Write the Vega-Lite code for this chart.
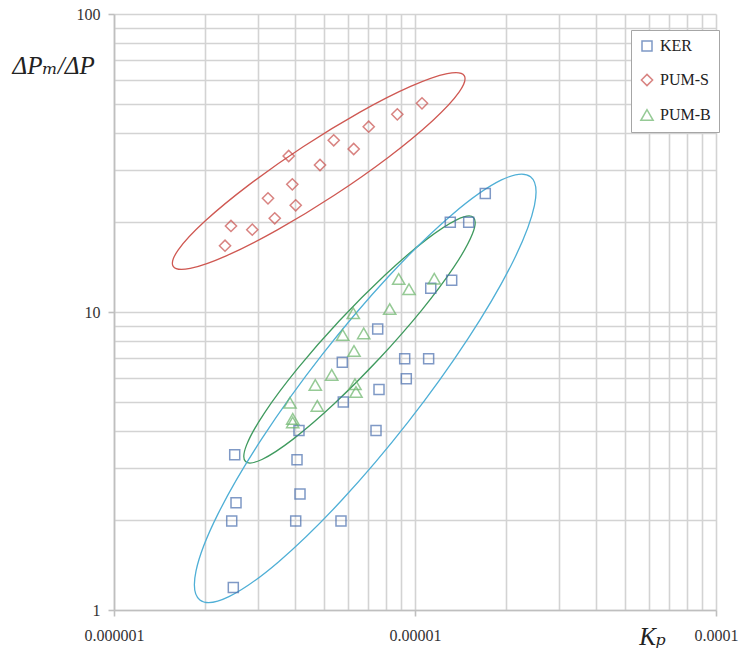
{
  "$schema": "https://vega.github.io/schema/vega-lite/v6.json",
  "width": 602,
  "height": 596,
  "autosize": {"type": "none"},
  "padding": {"left": 114, "top": 14, "right": 25, "bottom": 44},
  "background": "white",
  "config": {
    "view": {"stroke": null},
    "font": "Liberation Serif, DejaVu Serif, serif",
    "axis": {"labelFont": "Liberation Serif, DejaVu Serif, serif", "titleFont": "Liberation Serif, DejaVu Serif, serif"},
    "legend": {"labelFont": "Liberation Serif, DejaVu Serif, serif"}
  },
  "datasets": {
    "pts": [
      {"series": "KER", "Kp": 1.712e-5, "ratio": 25.0},
      {"series": "KER", "Kp": 1.310e-5, "ratio": 20.0},
      {"series": "KER", "Kp": 1.508e-5, "ratio": 20.0},
      {"series": "KER", "Kp": 1.324e-5, "ratio": 12.78},
      {"series": "KER", "Kp": 1.128e-5, "ratio": 12.01},
      {"series": "KER", "Kp": 7.518e-6, "ratio": 8.77},
      {"series": "KER", "Kp": 5.734e-6, "ratio": 6.78},
      {"series": "KER", "Kp": 9.242e-6, "ratio": 6.97},
      {"series": "KER", "Kp": 1.110e-5, "ratio": 6.97},
      {"series": "KER", "Kp": 9.356e-6, "ratio": 5.97},
      {"series": "KER", "Kp": 7.593e-6, "ratio": 5.49},
      {"series": "KER", "Kp": 5.778e-6, "ratio": 4.99},
      {"series": "KER", "Kp": 4.117e-6, "ratio": 4.0},
      {"series": "KER", "Kp": 7.421e-6, "ratio": 4.0},
      {"series": "KER", "Kp": 2.518e-6, "ratio": 3.32},
      {"series": "KER", "Kp": 4.055e-6, "ratio": 3.19},
      {"series": "KER", "Kp": 4.149e-6, "ratio": 2.45},
      {"series": "KER", "Kp": 2.543e-6, "ratio": 2.29},
      {"series": "KER", "Kp": 2.461e-6, "ratio": 1.99},
      {"series": "KER", "Kp": 4.015e-6, "ratio": 1.99},
      {"series": "KER", "Kp": 5.677e-6, "ratio": 1.99},
      {"series": "KER", "Kp": 2.491e-6, "ratio": 1.19},
      {"series": "PUM-S", "Kp": 2.338e-6, "ratio": 16.69},
      {"series": "PUM-S", "Kp": 2.447e-6, "ratio": 19.44},
      {"series": "PUM-S", "Kp": 2.880e-6, "ratio": 18.89},
      {"series": "PUM-S", "Kp": 3.420e-6, "ratio": 20.63},
      {"series": "PUM-S", "Kp": 3.248e-6, "ratio": 24.07},
      {"series": "PUM-S", "Kp": 4.015e-6, "ratio": 22.81},
      {"series": "PUM-S", "Kp": 3.912e-6, "ratio": 26.82},
      {"series": "PUM-S", "Kp": 3.805e-6, "ratio": 33.38},
      {"series": "PUM-S", "Kp": 4.835e-6, "ratio": 31.14},
      {"series": "PUM-S", "Kp": 5.370e-6, "ratio": 37.69},
      {"series": "PUM-S", "Kp": 6.256e-6, "ratio": 35.24},
      {"series": "PUM-S", "Kp": 7.018e-6, "ratio": 41.86},
      {"series": "PUM-S", "Kp": 8.735e-6, "ratio": 46.06},
      {"series": "PUM-S", "Kp": 1.055e-5, "ratio": 50.15},
      {"series": "PUM-B", "Kp": 8.828e-6, "ratio": 12.90},
      {"series": "PUM-B", "Kp": 1.159e-5, "ratio": 12.93},
      {"series": "PUM-B", "Kp": 9.552e-6, "ratio": 11.92},
      {"series": "PUM-B", "Kp": 8.240e-6, "ratio": 10.23},
      {"series": "PUM-B", "Kp": 6.238e-6, "ratio": 9.90},
      {"series": "PUM-B", "Kp": 5.752e-6, "ratio": 8.37},
      {"series": "PUM-B", "Kp": 6.754e-6, "ratio": 8.48},
      {"series": "PUM-B", "Kp": 6.271e-6, "ratio": 7.40},
      {"series": "PUM-B", "Kp": 5.288e-6, "ratio": 6.15},
      {"series": "PUM-B", "Kp": 4.664e-6, "ratio": 5.69},
      {"series": "PUM-B", "Kp": 6.319e-6, "ratio": 5.72},
      {"series": "PUM-B", "Kp": 6.368e-6, "ratio": 5.39},
      {"series": "PUM-B", "Kp": 3.843e-6, "ratio": 4.96},
      {"series": "PUM-B", "Kp": 4.736e-6, "ratio": 4.84},
      {"series": "PUM-B", "Kp": 3.924e-6, "ratio": 4.38},
      {"series": "PUM-B", "Kp": 3.924e-6, "ratio": 4.26}
    ],
    "ell": [
      {"series": "PUM-S", "idx": 0, "Kp": 1.457e-5, "ratio": 62.13},
      {"series": "PUM-S", "idx": 1, "Kp": 1.401e-5, "ratio": 54.68},
      {"series": "PUM-S", "idx": 2, "Kp": 1.144e-5, "ratio": 43.86},
      {"series": "PUM-S", "idx": 3, "Kp": 8.183e-6, "ratio": 33.15},
      {"series": "PUM-S", "idx": 4, "Kp": 5.393e-6, "ratio": 24.65},
      {"series": "PUM-S", "idx": 5, "Kp": 3.490e-6, "ratio": 18.86},
      {"series": "PUM-S", "idx": 6, "Kp": 2.370e-6, "ratio": 15.46},
      {"series": "PUM-S", "idx": 7, "Kp": 1.791e-6, "ratio": 14.00},
      {"series": "PUM-S", "idx": 8, "Kp": 1.573e-6, "ratio": 14.22},
      {"series": "PUM-S", "idx": 9, "Kp": 1.635e-6, "ratio": 16.16},
      {"series": "PUM-S", "idx": 10, "Kp": 2.003e-6, "ratio": 20.15},
      {"series": "PUM-S", "idx": 11, "Kp": 2.801e-6, "ratio": 26.65},
      {"series": "PUM-S", "idx": 12, "Kp": 4.250e-6, "ratio": 35.85},
      {"series": "PUM-S", "idx": 13, "Kp": 6.566e-6, "ratio": 46.86},
      {"series": "PUM-S", "idx": 14, "Kp": 9.668e-6, "ratio": 57.15},
      {"series": "PUM-S", "idx": 15, "Kp": 1.279e-5, "ratio": 63.10},
      {"series": "PUM-B", "idx": 0, "Kp": 1.564e-5, "ratio": 20.77},
      {"series": "PUM-B", "idx": 1, "Kp": 1.552e-5, "ratio": 18.29},
      {"series": "PUM-B", "idx": 2, "Kp": 1.351e-5, "ratio": 14.22},
      {"series": "PUM-B", "idx": 3, "Kp": 1.053e-5, "ratio": 10.15},
      {"series": "PUM-B", "idx": 4, "Kp": 7.628e-6, "ratio": 6.995},
      {"series": "PUM-B", "idx": 5, "Kp": 5.401e-6, "ratio": 4.929},
      {"series": "PUM-B", "idx": 6, "Kp": 3.937e-6, "ratio": 3.745},
      {"series": "PUM-B", "idx": 7, "Kp": 3.101e-6, "ratio": 3.200},
      {"series": "PUM-B", "idx": 8, "Kp": 2.736e-6, "ratio": 3.148},
      {"series": "PUM-B", "idx": 9, "Kp": 2.756e-6, "ratio": 3.575},
      {"series": "PUM-B", "idx": 10, "Kp": 3.167e-6, "ratio": 4.598},
      {"series": "PUM-B", "idx": 11, "Kp": 4.064e-6, "ratio": 6.443},
      {"series": "PUM-B", "idx": 12, "Kp": 5.608e-6, "ratio": 9.347},
      {"series": "PUM-B", "idx": 13, "Kp": 7.921e-6, "ratio": 13.26},
      {"series": "PUM-B", "idx": 14, "Kp": 1.087e-5, "ratio": 17.46},
      {"series": "PUM-B", "idx": 15, "Kp": 1.380e-5, "ratio": 20.43},
      {"series": "KER", "idx": 0, "Kp": 2.420e-5, "ratio": 28.44},
      {"series": "KER", "idx": 1, "Kp": 2.493e-5, "ratio": 22.74},
      {"series": "KER", "idx": 2, "Kp": 2.109e-5, "ratio": 14.66},
      {"series": "KER", "idx": 3, "Kp": 1.502e-5, "ratio": 8.155},
      {"series": "KER", "idx": 4, "Kp": 9.495e-6, "ratio": 4.277},
      {"series": "KER", "idx": 5, "Kp": 5.707e-6, "ratio": 2.334},
      {"series": "KER", "idx": 6, "Kp": 3.526e-6, "ratio": 1.453},
      {"series": "KER", "idx": 7, "Kp": 2.409e-6, "ratio": 1.109},
      {"series": "KER", "idx": 8, "Kp": 1.929e-6, "ratio": 1.081},
      {"series": "KER", "idx": 9, "Kp": 1.873e-6, "ratio": 1.353},
      {"series": "KER", "idx": 10, "Kp": 2.214e-6, "ratio": 2.097},
      {"series": "KER", "idx": 11, "Kp": 3.107e-6, "ratio": 3.771},
      {"series": "KER", "idx": 12, "Kp": 4.916e-6, "ratio": 7.191},
      {"series": "KER", "idx": 13, "Kp": 8.179e-6, "ratio": 13.18},
      {"series": "KER", "idx": 14, "Kp": 1.324e-5, "ratio": 21.17},
      {"series": "KER", "idx": 15, "Kp": 1.938e-5, "ratio": 27.74}
    ]
  },
  "encoding": {
    "x": {
      "field": "Kp",
      "type": "quantitative",
      "scale": {"type": "log", "domain": [0.000001, 0.0001], "nice": false},
      "axis": {
        "values": [0.000001, 0.000002, 0.000003, 0.000004, 0.000005, 0.000006, 0.000007, 0.000008, 0.000009, 0.00001, 0.00002, 0.00003, 0.00004, 0.00005, 0.00006, 0.00007, 0.00008, 0.00009, 0.0001],
        "grid": true,
        "gridColor": "#d3d3d3",
        "gridWidth": 1.6,
        "domainColor": "#bfbfbf",
        "domainWidth": 1.6,
        "tickColor": "#bfbfbf",
        "tickWidth": 1.6,
        "tickSize": 6,
        "tickOpacity": {"condition": {"test": "datum.value == 0.000001 || datum.value == 0.00001 || datum.value == 0.0001", "value": 1}, "value": 0},
        "labelExpr": "datum.value == 0.000001 ? '0.000001' : datum.value == 0.00001 ? '0.00001' : datum.value == 0.0001 ? '0.0001' : ''",
        "labelFontSize": 16,
        "labelColor": "#333333",
        "labelPadding": 11,
        "labelFlush": false,
        "labelOverlap": false,
        "title": "Kₚ",
        "titleFontStyle": "italic",
        "titleFontWeight": "normal",
        "titleFontSize": 25,
        "titleColor": "#222222",
        "titleX": 538,
        "titleY": 26,
        "titleAlign": "center",
        "titleBaseline": "middle"
      }
    },
    "y": {
      "field": "ratio",
      "type": "quantitative",
      "scale": {"type": "log", "domain": [1, 100], "nice": false},
      "axis": {
        "values": [1, 2, 3, 4, 5, 6, 7, 8, 9, 10, 20, 30, 40, 50, 60, 70, 80, 90, 100],
        "grid": true,
        "gridColor": "#d3d3d3",
        "gridWidth": 1.6,
        "domainColor": "#bfbfbf",
        "domainWidth": 1.6,
        "tickColor": "#bfbfbf",
        "tickWidth": 1.6,
        "tickSize": 6,
        "tickOpacity": {"condition": {"test": "datum.value == 1 || datum.value == 10 || datum.value == 100", "value": 1}, "value": 0},
        "labelExpr": "datum.value == 100 ? '100' : datum.value == 10 ? '10' : datum.value == 1 ? '1' : ''",
        "labelFontSize": 16,
        "labelColor": "#333333",
        "labelPadding": 8,
        "labelOverlap": false,
        "labelFlush": false,
        "title": "ΔPₘ/ΔP",
        "titleFontStyle": "italic",
        "titleFontWeight": "normal",
        "titleFontSize": 25,
        "titleColor": "#222222",
        "titleAngle": 0,
        "titleX": -102,
        "titleY": 51,
        "titleAlign": "left",
        "titleBaseline": "middle"
      }
    }
  },
  "layer": [
    {
      "data": {"name": "ell"},
      "mark": {"type": "line", "interpolate": "cardinal-closed", "strokeWidth": 1.3},
      "encoding": {
        "stroke": {
          "field": "series",
          "type": "nominal",
          "scale": {"domain": ["PUM-S", "PUM-B", "KER"], "range": ["#cf5852", "#3f9a5e", "#4fafd6"]},
          "legend": null
        },
        "order": {"field": "idx", "type": "quantitative"}
      }
    },
    {
      "data": {"name": "pts"},
      "mark": {"type": "point", "filled": false, "strokeWidth": 1.5},
      "encoding": {
        "color": {
          "field": "series",
          "type": "nominal",
          "scale": {"domain": ["KER", "PUM-S", "PUM-B"], "range": ["#4a6fae", "#c9504d", "#6ab56a"]},
          "legend": {
            "title": null,
            "orient": "none",
            "legendX": 517,
            "legendY": 16,
            "padding": 8,
            "rowPadding": 17,
            "fillColor": "white",
            "strokeColor": "#a6a6a6",
            "labelFontSize": 16,
            "labelColor": "#222222",
            "labelOffset": 5,
            "symbolStrokeWidth": 1.5
          }
        },
        "shape": {
          "field": "series",
          "type": "nominal",
          "scale": {"domain": ["KER", "PUM-S", "PUM-B"], "range": ["square", "diamond", "triangle-up"]},
          "legend": {
            "title": null,
            "orient": "none",
            "legendX": 517,
            "legendY": 16,
            "padding": 8,
            "rowPadding": 17,
            "fillColor": "white",
            "strokeColor": "#a6a6a6",
            "labelFontSize": 16,
            "labelColor": "#222222",
            "labelOffset": 5,
            "symbolStrokeWidth": 1.5
          }
        },
        "size": {
          "field": "series",
          "type": "ordinal",
          "scale": {"domain": ["KER", "PUM-S", "PUM-B"], "range": [100, 150, 150]},
          "legend": {
            "title": null,
            "orient": "none",
            "legendX": 517,
            "legendY": 16,
            "padding": 8,
            "rowPadding": 17,
            "fillColor": "white",
            "strokeColor": "#a6a6a6",
            "labelFontSize": 16,
            "labelColor": "#222222",
            "labelOffset": 5,
            "symbolStrokeWidth": 1.5
          }
        }
      }
    }
  ]
}
